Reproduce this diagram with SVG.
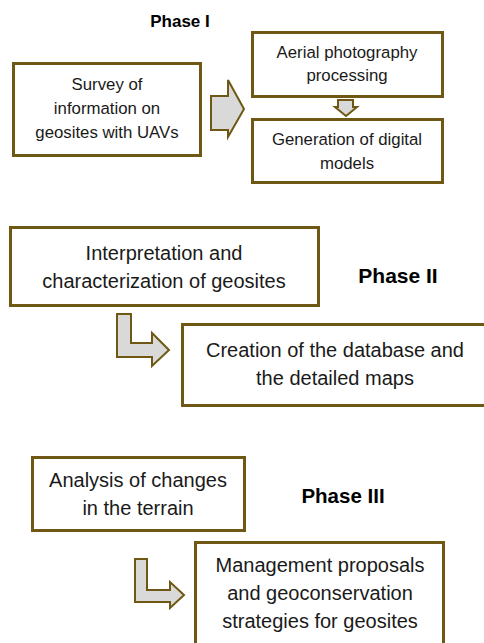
<svg xmlns="http://www.w3.org/2000/svg" width="484" height="643" viewBox="0 0 484 643">
<style>
.box{fill:#fff;stroke:#6e5813;stroke-width:3}
.arr{fill:#d9d9d9;stroke:#6e5813;stroke-width:2;stroke-linejoin:miter}
text{font-family:"Liberation Sans",Arial,sans-serif;fill:#1a1a1a;text-anchor:middle}
.t15{font-size:16.8px}
.t18{font-size:20px}
.ph{font-weight:bold;fill:#000}
</style>
<rect width="484" height="643" fill="#fff"/>
<text class="ph" x="180" y="27" font-size="17">Phase I</text>
<text class="ph" x="398" y="283" font-size="21">Phase II</text>
<text class="ph" x="343" y="503" font-size="20.5">Phase III</text>
<g id="connectors">
<path class="arr" d="M211,96 L228,96 L228,80 L244,109 L228,137 L228,130 L211,130 Z"/>
<path class="arr" d="M338,100 L353,100 L353,107 L357,107 L346,116 L335,107 L338,107 Z"/>
<path class="arr" d="M117,314 L131,314 L131,343 L152,343 L152,333 L169,350 L152,366 L152,357 L117,357 Z"/>
<path class="arr" d="M135,559 L147,559 L147,590 L170,590 L170,582 L184,595 L170,608 L170,602 L135,602 Z"/>
</g>
<g id="n1">
<rect class="box" x="13.5" y="63.5" width="187" height="92"/>
<text class="t15" x="107" y="90">Survey of</text>
<text class="t15" x="107" y="114">information on</text>
<text class="t15" x="107" y="138">geosites with UAVs</text>
</g>
<g id="n2">
<rect class="box" x="252.5" y="32.5" width="190" height="64"/>
<text class="t15" x="347" y="58">Aerial photography</text>
<text class="t15" x="347" y="81">processing</text>
</g>
<g id="n3">
<rect class="box" x="252.5" y="119.5" width="190" height="63"/>
<text class="t15" x="347" y="145">Generation of digital</text>
<text class="t15" x="347" y="169">models</text>
</g>
<g id="n4">
<rect class="box" x="10.5" y="227.5" width="308" height="78"/>
<text class="t18" x="164" y="260">Interpretation and</text>
<text class="t18" x="164" y="288">characterization of geosites</text>
</g>
<g id="n5">
<rect class="box" x="182.5" y="324.5" width="310" height="81"/>
<text class="t18" x="335" y="357">Creation of the database and</text>
<text class="t18" x="335" y="385">the detailed maps</text>
</g>
<g id="n6">
<rect class="box" x="32.5" y="457.5" width="212" height="73"/>
<text class="t18" x="138" y="487">Analysis of changes</text>
<text class="t18" x="138" y="515">in the terrain</text>
</g>
<g id="n7">
<rect class="box" x="195.5" y="542.5" width="248" height="110"/>
<text class="t18" x="320" y="572">Management proposals</text>
<text class="t18" x="320" y="600">and geoconservation</text>
<text class="t18" x="320" y="628">strategies for geosites</text>
</g>
</svg>
